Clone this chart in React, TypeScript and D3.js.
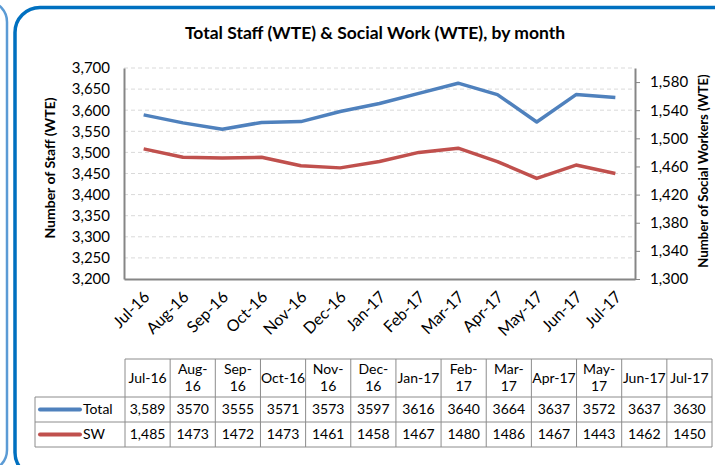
import React, { useEffect, useRef } from 'react';
import * as d3 from 'd3';

const months = ['Jul-16', 'Aug-16', 'Sep-16', 'Oct-16', 'Nov-16', 'Dec-16', 'Jan-17', 'Feb-17', 'Mar-17', 'Apr-17', 'May-17', 'Jun-17', 'Jul-17'];
const headerLabels = ['Jul-16', 'Aug-\n16', 'Sep-\n16', 'Oct-16', 'Nov-\n16', 'Dec-\n16', 'Jan-17', 'Feb-\n17', 'Mar-\n17', 'Apr-17', 'May-\n17', 'Jun-17', 'Jul-17'];
const totalStaff = [3589, 3570, 3555, 3571, 3573, 3597, 3616, 3640, 3664, 3637, 3572, 3637, 3630];
const socialWork = [1485, 1473, 1472, 1473, 1461, 1458, 1467, 1480, 1486, 1467, 1443, 1462, 1450];
const leftTicks = [3200, 3250, 3300, 3350, 3400, 3450, 3500, 3550, 3600, 3650, 3700];
const rightTicks = [1300, 1340, 1380, 1420, 1460, 1500, 1540, 1580];

const FONT = 'Lato, "Open Sans", sans-serif';
const BLUE = '#4f81bd';
const RED = '#c0504d';

const App = () => {
  const ref = useRef<SVGSVGElement>(null);

  useEffect(() => {
    const svg = d3.select(ref.current);
    svg.selectAll('*').remove();

    // panel frames
    svg.append('rect')
      .attr('x', -30).attr('y', 2).attr('width', 37).attr('height', 468).attr('rx', 20)
      .attr('fill', 'none').attr('stroke', '#5b9bd5').attr('stroke-width', 2.5);
    svg.append('rect')
      .attr('x', 15).attr('y', 7.5).attr('width', 730).attr('height', 470).attr('rx', 25)
      .attr('fill', '#fff').attr('stroke', '#0070c0').attr('stroke-width', 3.5);

    const plot = { left: 124, right: 635, top: 68, bottom: 279 };
    const x = d3.scaleBand().domain(months).range([plot.left, plot.right]);
    const yL = d3.scaleLinear().domain([3200, 3700]).range([plot.bottom, plot.top]);
    const yR = d3.scaleLinear().domain([1300, 1600]).range([plot.bottom, plot.top]);

    // title
    svg.append('text')
      .attr('x', 375).attr('y', 39).attr('text-anchor', 'middle')
      .attr('font-family', FONT).attr('font-weight', 'bold').attr('font-size', 17.5)
      .text('Total Staff (WTE) & Social Work (WTE), by month');

    // gridlines
    svg.append('g').selectAll('line').data(leftTicks.slice(1)).join('line')
      .attr('x1', plot.left).attr('x2', plot.right)
      .attr('y1', d => yL(d)).attr('y2', d => yL(d))
      .attr('stroke', '#d9d9d9').attr('stroke-dasharray', '4,3');

    // left axis
    const gl = svg.append('g').attr('transform', `translate(${plot.left},0)`)
      .call(d3.axisLeft(yL).tickValues(leftTicks).tickFormat(d3.format(',')).tickSize(0).tickPadding(14));
    gl.select('.domain').attr('stroke', '#868686').attr('stroke-width', 2);
    gl.selectAll('text').attr('font-family', FONT).attr('font-size', 15).attr('fill', '#000');

    // right axis
    const gr = svg.append('g').attr('transform', `translate(${plot.right},0)`)
      .call(d3.axisRight(yR).tickValues(rightTicks).tickFormat(d3.format(',')).tickSizeInner(5).tickSizeOuter(0).tickPadding(10));
    gr.select('.domain').attr('stroke', '#868686').attr('stroke-width', 2);
    gr.selectAll('line').attr('stroke', '#868686');
    gr.selectAll('text').attr('font-family', FONT).attr('font-size', 15).attr('fill', '#000');

    // bottom axis
    const gb = svg.append('g').attr('transform', `translate(0,${plot.bottom})`)
      .call(d3.axisBottom(x).tickSize(0).tickFormat(() => ''));
    gb.select('.domain').attr('stroke', '#868686').attr('stroke-width', 2);
    svg.append('g').selectAll('text').data(months).join('text')
      .attr('transform', d => `translate(${(x(d) as number) + x.bandwidth() / 2 + 3},${plot.bottom + 15}) rotate(-45)`)
      .attr('text-anchor', 'end').attr('dy', '0.35em')
      .attr('font-family', FONT).attr('font-size', 16)
      .text(d => d);

    // axis titles
    svg.append('text')
      .attr('transform', `translate(55,168) rotate(-90)`)
      .attr('text-anchor', 'middle')
      .attr('font-family', FONT).attr('font-weight', 'bold').attr('font-size', 14)
      .text('Number of Staff (WTE)');
    svg.append('text')
      .attr('transform', `translate(708,171) rotate(-90)`)
      .attr('text-anchor', 'middle')
      .attr('font-family', FONT).attr('font-weight', 'bold').attr('font-size', 13.2)
      .text('Number of Social Workers (WTE)');

    // lines
    const cx = (i: number) => (x(months[i]) as number) + x.bandwidth() / 2;
    svg.append('path').datum(totalStaff)
      .attr('fill', 'none').attr('stroke', BLUE).attr('stroke-width', 3.5).attr('stroke-linejoin', 'round')
      .attr('d', d3.line<number>().x((_, i) => cx(i)).y(d => yL(d)));
    svg.append('path').datum(socialWork)
      .attr('fill', 'none').attr('stroke', RED).attr('stroke-width', 3.5).attr('stroke-linejoin', 'round')
      .attr('d', d3.line<number>().x((_, i) => cx(i)).y(d => yR(d)));

    // data table
    const tx = d3.scaleBand().domain(months).range([125, 712]);
    const rowTop = 359, headH = 38, rowH = 25;
    const tableBottom = rowTop + headH + rowH * 2;
    const border = '#8c8c8c';
    const t = svg.append('g');
    t.append('line').attr('x1', 125).attr('x2', 712).attr('y1', rowTop).attr('y2', rowTop).attr('stroke', border);
    [rowTop + headH, rowTop + headH + rowH, tableBottom].forEach(yy => {
      t.append('line').attr('x1', 35).attr('x2', 712).attr('y1', yy).attr('y2', yy).attr('stroke', border);
    });
    t.append('line').attr('x1', 35).attr('x2', 35).attr('y1', rowTop + headH).attr('y2', tableBottom).attr('stroke', border);
    const cols = months.map(m => tx(m) as number).concat([712]);
    t.selectAll('line.v').data(cols).join('line').attr('class', 'v')
      .attr('x1', d => d).attr('x2', d => d).attr('y1', rowTop).attr('y2', tableBottom).attr('stroke', border);

    // headers
    t.selectAll('text.h').data(headerLabels).join('text').attr('class', 'h')
      .attr('font-family', FONT).attr('font-size', 14).attr('text-anchor', 'middle')
      .each(function (d, i) {
        const lines = d.split('\n');
        const xm = (tx(months[i]) as number) + tx.bandwidth() / 2;
        const y0 = rowTop + headH / 2 - (lines.length - 1) * 8.5;
        d3.select(this).selectAll('tspan').data(lines).join('tspan')
          .attr('x', xm).attr('y', (_, j) => y0 + j * 17).attr('dy', '0.35em').text(l => l);
      });

    const rows = [
      { name: 'Total', color: BLUE, values: totalStaff },
      { name: 'SW', color: RED, values: socialWork },
    ];
    rows.forEach((r, ri) => {
      const ym = rowTop + headH + rowH * ri + rowH / 2;
      t.append('line').attr('x1', 40).attr('x2', 80).attr('y1', ym).attr('y2', ym)
        .attr('stroke', r.color).attr('stroke-width', 4).attr('stroke-linecap', 'round');
      t.append('text').attr('x', 83).attr('y', ym).attr('dy', '0.35em')
        .attr('font-family', FONT).attr('font-size', 14).text(r.name);
      t.selectAll(`text.r${ri}`).data(r.values).join('text').attr('class', `r${ri}`)
        .attr('x', (_, i) => (tx(months[i]) as number) + tx.bandwidth() / 2)
        .attr('y', ym).attr('dy', '0.35em').attr('text-anchor', 'middle')
        .attr('font-family', FONT).attr('font-size', 14)
        .text((v, i) => (i === 0 ? d3.format(',')(v) : String(v)));
    });
  }, []);

  return (
    <div style={{ position: 'absolute', left: 0, top: 0 }}>
      <svg ref={ref} width={715} height={465} style={{ display: 'block' }} />
    </div>
  );
};

export default App;
